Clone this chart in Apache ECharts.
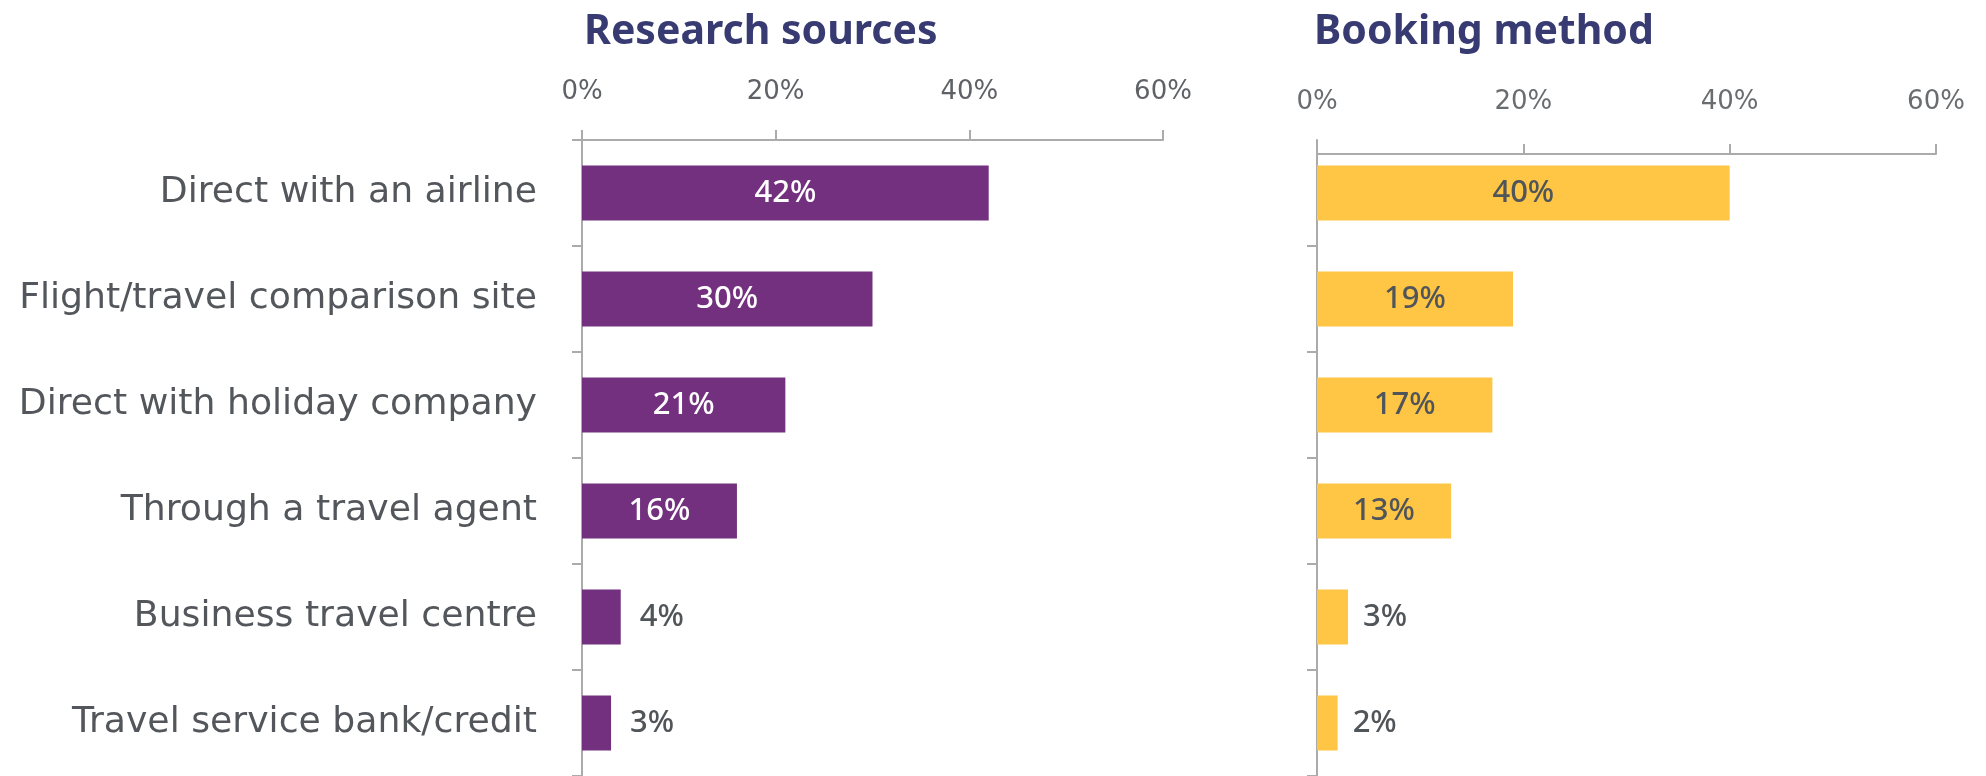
<!DOCTYPE html>
<html>
<head>
<meta charset="utf-8">
<title>Research sources / Booking method</title>
<script src="https://cdn.jsdelivr.net/npm/echarts@6/dist/echarts.min.js"></script>
<style>
  html, body { margin: 0; padding: 0; background: #fff; }
  #chart { width: 1986px; height: 776px; }
</style>
</head>
<body>
<div id="chart"></div>
<script>
// 类别（从上到下）
const categories = [
  'Direct with an airline',
  'Flight/travel comparison site',
  'Direct with holiday company',
  'Through a travel agent',
  'Business travel centre',
  'Travel service bank/credit'
];
// 左图：Research sources
const researchValues = [42, 30, 21, 16, 4, 3];
// 右图：Booking method
const bookingValues = [40, 19, 17, 13, 3, 2];
// 横轴刻度
const axisMin = 0;
const axisMax = 60;
const axisStep = 20;

const labelGrey = '#50555a';
const axisGrey = '#ababab';

// 小值的标签放在柱子外面
function buildData(values, insideColor, outsideDistance) {
  return values.map(v => ({
    value: v,
    label: v < 10
      ? { position: 'right', color: labelGrey, distance: outsideDistance }
      : { position: 'inside', color: insideColor }
  }));
}

function valueAxis(gridIndex, fontSize, margin, offset, color) {
  return {
    type: 'value',
    gridIndex: gridIndex,
    position: 'top',
    min: axisMin,
    max: axisMax,
    interval: axisStep,
    offset: offset,
    splitLine: { show: false },
    axisLine: { show: true, lineStyle: { color: axisGrey, width: 2 } },
    axisTick: { show: true, length: 10, lineStyle: { color: axisGrey, width: 2 } },
    axisLabel: {
      formatter: '{value}%',
      fontFamily: 'DejaVu Sans',
      fontSize: fontSize,
      color: color,
      margin: margin
    }
  };
}

function categoryAxis(gridIndex, showLabels) {
  return {
    type: 'category',
    gridIndex: gridIndex,
    data: categories,
    inverse: true,
    axisLine: { show: true, lineStyle: { color: axisGrey, width: 2 } },
    axisTick: {
      show: true,
      length: 10,
      // 右图顶部的刻度由横轴代替
      interval: showLabels ? 0 : function(i) { return i !== 0; },
      lineStyle: { color: axisGrey, width: 2 }
    },
    axisLabel: {
      show: showLabels,
      fontFamily: 'DejaVu Sans',
      fontSize: 36.2,
      color: '#53575b',
      margin: 45
    }
  };
}

const chartDom = document.getElementById('chart');
const myChart = echarts.init(chartDom, null, { renderer: 'canvas' });

const barLabel = {
  show: true,
  formatter: '{c}%',
  fontFamily: 'Noto Sans',
  fontSize: 31,
  fontWeight: 500
};

const option = {
  animation: false,
  backgroundColor: '#ffffff',
  title: [
    {
      text: 'Research sources',
      left: 579,
      top: 7,
      textStyle: { fontFamily: 'Noto Sans', fontWeight: 'bold', fontSize: 41, color: '#383b72' }
    },
    {
      text: 'Booking method',
      left: 1309,
      top: 7,
      textStyle: { fontFamily: 'Noto Sans', fontWeight: 'bold', fontSize: 41, color: '#383b72' }
    }
  ],
  grid: [
    { left: 582, width: 581, top: 140, height: 640, containLabel: false },
    { left: 1317, width: 619, top: 140, height: 640, containLabel: false }
  ],
  xAxis: [
    valueAxis(0, 26, 35, 0, '#5e6165'),
    valueAxis(1, 26, 39, -14, '#6a6d70')
  ],
  yAxis: [
    categoryAxis(0, true),
    categoryAxis(1, false)
  ],
  series: [
    {
      name: 'Research sources',
      type: 'bar',
      xAxisIndex: 0,
      yAxisIndex: 0,
      barWidth: '52%',
      itemStyle: { color: '#73307f' },
      label: barLabel,
      data: buildData(researchValues, '#ffffff', 19)
    },
    {
      name: 'Booking method',
      type: 'bar',
      xAxisIndex: 1,
      yAxisIndex: 1,
      barWidth: '52%',
      itemStyle: { color: '#ffc645' },
      label: barLabel,
      data: buildData(bookingValues, labelGrey, 15)
    }
  ]
};

myChart.setOption(option);
window.addEventListener('resize', function() {
  myChart.resize();
});
</script>
</body>
</html>
